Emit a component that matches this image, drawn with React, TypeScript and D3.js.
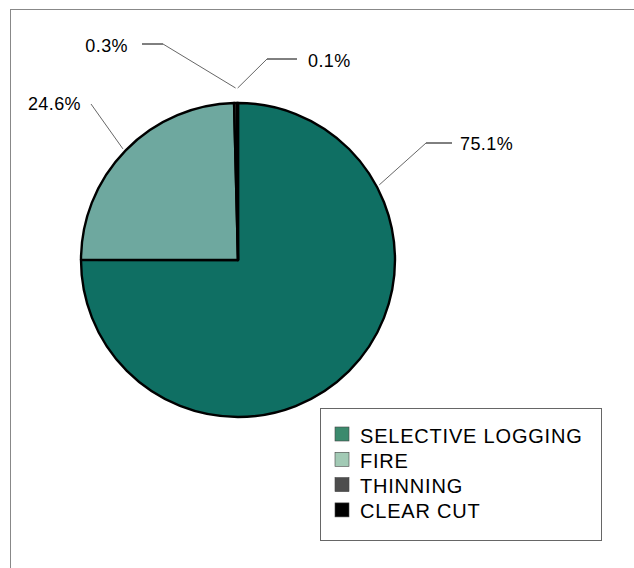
import React from "react";
import * as d3 from "d3";

const categories = ["SELECTIVE LOGGING", "FIRE", "THINNING", "CLEAR CUT"];
const values = [75.1, 24.6, 0.3, 0.1];
const pieColors = ["#0f6f63", "#6ea89f", "#4d4d4d", "#000000"];
const legendColors = ["#3b8a6d", "#a2cab5", "#4d4d4d", "#000000"];
const labelTexts = ["75.1%", "24.6%", "0.3%", "0.1%"];

// leader layout: angle on rim (deg, clockwise from top), elbow point, text anchor
const leaderAngles = [62, 314, 359.2, 359.9];
const leaderElbows: [number, number][] = [[426, 143], [91, 104], [163, 44], [267, 59]];
const leaderEnds: [number, number][] = [[452, 143], [91, 104], [142, 44], [297, 59]];
const labelPos: [number, number, string][] = [[460, 149, "start"], [81, 109, "end"], [128, 51, "end"], [308, 66, "start"]];

export default function App() {
  const W = 634, H = 568;
  const cx = 238, cy = 260, r = 157;
  const pie = d3.pie<number>().sort(null).value((d) => d);
  const arcs = pie(values);
  const arc = d3.arc<d3.PieArcDatum<number>>().innerRadius(0).outerRadius(r);

  return (
    <svg width={W} height={H} style={{ position: "absolute", left: 0, top: 0 }} fontFamily="'Liberation Sans', Arial, sans-serif">
      <rect x={0} y={0} width={W} height={H} fill="#fff" />
      <rect x={10.5} y={9.5} width={W + 20} height={H + 20} fill="none" stroke="#888" strokeWidth={1} />
      <g transform={`translate(${cx},${cy})`}>
        {arcs.map((a, i) => (
          <path key={i} d={arc(a) || ""} fill={pieColors[i]} stroke="#000" strokeWidth={2.4} strokeLinejoin="round" />
        ))}
      </g>
      {leaderAngles.map((ang, i) => {
        const t = (ang * Math.PI) / 180;
        const sx = cx + (r + (i >= 2 ? 15 : 3)) * Math.sin(t);
        const sy = cy - (r + (i >= 2 ? 15 : 3)) * Math.cos(t);
        const [ex, ey] = leaderElbows[i];
        const [fx, fy] = leaderEnds[i];
        return (
          <g key={i}>
            <line x1={sx} y1={sy} x2={ex} y2={ey} stroke="#555" strokeWidth={0.9} />
            {(fx !== ex || fy !== ey) && <line x1={ex} y1={ey} x2={fx} y2={fy} stroke="#000" strokeWidth={1} />}
            <text x={labelPos[i][0]} y={labelPos[i][1] + 0.5} textAnchor={labelPos[i][2] as any} fontSize={18} letterSpacing={0.4} fill="#000">
              {labelTexts[i]}
            </text>
          </g>
        );
      })}
      <rect x={320.5} y={408.5} width={281} height={132} fill="#fff" stroke="#666" strokeWidth={1} />
      {categories.map((c, i) => (
        <g key={c} transform={`translate(335, ${427 + i * 25.3})`}>
          <rect x={0} y={0} width={14} height={14} fill={legendColors[i]} stroke="#444" strokeWidth={0.6} />
          <text x={25} y={15.5} fontSize={20} letterSpacing={0.8} fill="#000">{c}</text>
        </g>
      ))}
    </svg>
  );
}
